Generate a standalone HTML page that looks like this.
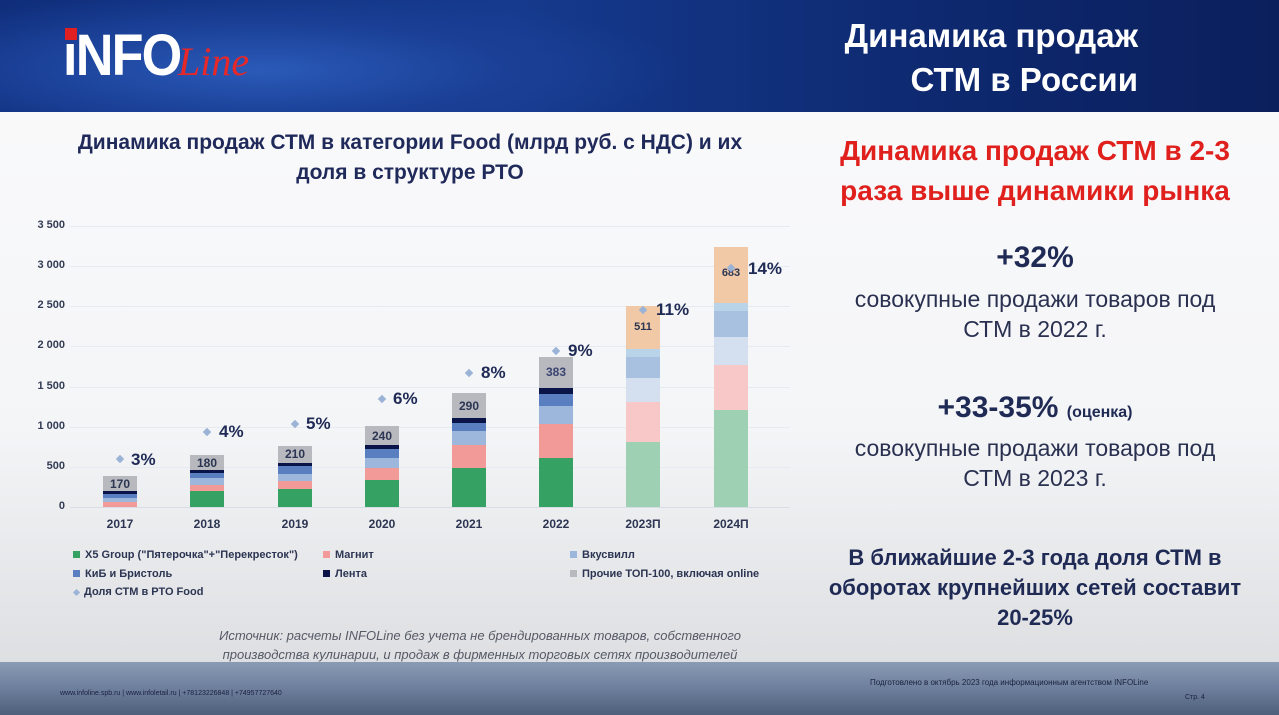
<!DOCTYPE html>
<html><head><meta charset="utf-8"><style>
*{margin:0;padding:0;box-sizing:border-box}
body{width:1279px;height:715px;overflow:hidden;position:relative;font-family:"Liberation Sans",sans-serif;background:linear-gradient(#fbfbfc 0%,#f4f5f7 60%,#d9dadd 100%)}
.a{position:absolute;white-space:nowrap}
.hdr{position:absolute;left:0;top:0;width:1279px;height:112px;background:radial-gradient(ellipse 420px 80px at 260px 70px,#2a5ab8 0%,#1a3f95 60%,transparent 100%),linear-gradient(90deg,#0f2d7a,#163a8e 40%,#0e2a72 70%,#0b1f5c)}
.ftr{position:absolute;left:0;top:662px;width:1279px;height:53px;background:linear-gradient(#8a9bb5,#6d7f9c 50%,#4e5f7c)}
.yl{position:absolute;left:20px;width:45px;text-align:right;font-size:11px;font-weight:bold;color:#333c55}
.gl{position:absolute;left:70px;width:720px;height:1px;background:#e6ebf1}
.xl{position:absolute;width:60px;text-align:center;font-size:12px;font-weight:bold;color:#2c3552;top:517px}
.vl{position:absolute;width:34px;text-align:center;font-size:12px;font-weight:bold;color:#2c3552}
.pc{position:absolute;font-size:17px;font-weight:bold;color:#1f2a55}
.dot{position:absolute;width:6px;height:6px;background:#9bb3d6;transform:rotate(45deg)}
.lg{position:absolute;font-size:11px;font-weight:bold;color:#2c3552}
.lg i{display:inline-block;width:7px;height:7px;margin-right:5px;vertical-align:0}
.r{position:absolute;left:820px;width:430px;text-align:center;color:#2a3050}
</style></head><body>
<div class="hdr"></div>
<div class="a" style="left:63px;top:22px;font-size:58px;font-weight:bold;color:#fff;letter-spacing:-2px;transform:scaleX(0.9);transform-origin:left">iNFO</div>
<div class="a" style="left:65px;top:28px;width:12px;height:12px;background:#e02020"></div>
<div class="a" style="left:178px;top:38px;font-size:40px;font-style:italic;font-family:'Liberation Serif',serif;color:#e82828">Line</div>
<div class="a" style="left:820px;top:14px;width:318px;text-align:right;font-size:33px;font-weight:bold;color:#fff;line-height:44px">Динамика продаж<br>СТМ в России</div>

<div class="a" style="left:30px;top:128px;width:760px;text-align:center;font-size:21px;font-weight:bold;color:#1f2a5a;line-height:30px">Динамика продаж СТМ в категории Food (млрд руб. с НДС) и их<br>доля в структуре РТО</div>

<div class="gl" style="top:226px"></div><div class="gl" style="top:266px"></div><div class="gl" style="top:306px"></div><div class="gl" style="top:346px"></div><div class="gl" style="top:387px"></div><div class="gl" style="top:427px"></div><div class="gl" style="top:467px"></div><div class="gl" style="top:507px;background:#d8dde5"></div>
<div class="yl" style="top:219px">3 500</div><div class="yl" style="top:259px">3 000</div><div class="yl" style="top:299px">2 500</div><div class="yl" style="top:339px">2 000</div><div class="yl" style="top:380px">1 500</div><div class="yl" style="top:420px">1 000</div><div class="yl" style="top:460px">500</div><div class="yl" style="top:500px">0</div>

<svg class="a" style="left:0;top:0" width="800" height="520">
<rect x="103" y="476" width="34" height="15" fill="#b7b9bf"/><rect x="103" y="491" width="34" height="3" fill="#0b1448"/><rect x="103" y="494" width="34" height="4" fill="#5a7fc0"/><rect x="103" y="498" width="34" height="4" fill="#9db6dc"/><rect x="103" y="502" width="34" height="5" fill="#f29a98"/>
<rect x="190" y="455" width="34" height="15" fill="#b7b9bf"/><rect x="190" y="470" width="34" height="3" fill="#0b1448"/><rect x="190" y="473" width="34" height="5" fill="#5a7fc0"/><rect x="190" y="478" width="34" height="7" fill="#9db6dc"/><rect x="190" y="485" width="34" height="6" fill="#f29a98"/><rect x="190" y="491" width="34" height="16" fill="#35a162"/>
<rect x="278" y="446" width="34" height="17" fill="#b7b9bf"/><rect x="278" y="463" width="34" height="3" fill="#0b1448"/><rect x="278" y="466" width="34" height="8" fill="#5a7fc0"/><rect x="278" y="474" width="34" height="7" fill="#9db6dc"/><rect x="278" y="481" width="34" height="8" fill="#f29a98"/><rect x="278" y="489" width="34" height="18" fill="#35a162"/>
<rect x="365" y="426" width="34" height="19" fill="#b7b9bf"/><rect x="365" y="445" width="34" height="4" fill="#0b1448"/><rect x="365" y="449" width="34" height="9" fill="#5a7fc0"/><rect x="365" y="458" width="34" height="10" fill="#9db6dc"/><rect x="365" y="468" width="34" height="12" fill="#f29a98"/><rect x="365" y="480" width="34" height="27" fill="#35a162"/>
<rect x="452" y="393" width="34" height="25" fill="#b7b9bf"/><rect x="452" y="418" width="34" height="5" fill="#0b1448"/><rect x="452" y="423" width="34" height="8" fill="#5a7fc0"/><rect x="452" y="431" width="34" height="14" fill="#9db6dc"/><rect x="452" y="445" width="34" height="23" fill="#f29a98"/><rect x="452" y="468" width="34" height="39" fill="#35a162"/>
<rect x="539" y="357" width="34" height="31" fill="#b7b9bf"/><rect x="539" y="388" width="34" height="6" fill="#0b1448"/><rect x="539" y="394" width="34" height="12" fill="#5a7fc0"/><rect x="539" y="406" width="34" height="18" fill="#9db6dc"/><rect x="539" y="424" width="34" height="34" fill="#f29a98"/><rect x="539" y="458" width="34" height="49" fill="#35a162"/>
<rect x="626" y="306" width="34" height="43" fill="#f2c9a6"/><rect x="626" y="349" width="34" height="8" fill="#b9d3e8"/><rect x="626" y="357" width="34" height="21" fill="#a9c1e0"/><rect x="626" y="378" width="34" height="24" fill="#d4dff0"/><rect x="626" y="402" width="34" height="40" fill="#f8c8c8"/><rect x="626" y="442" width="34" height="65" fill="#9ed0b3"/>
<rect x="714" y="247" width="34" height="56" fill="#f2c9a6"/><rect x="714" y="303" width="34" height="8" fill="#b9d3e8"/><rect x="714" y="311" width="34" height="26" fill="#a9c1e0"/><rect x="714" y="337" width="34" height="28" fill="#d4dff0"/><rect x="714" y="365" width="34" height="45" fill="#f8c8c8"/><rect x="714" y="410" width="34" height="97" fill="#9ed0b3"/>
</svg>

<div class="vl" style="left:103px;top:477px">170</div><div class="vl" style="left:190px;top:456px">180</div><div class="vl" style="left:278px;top:447px">210</div><div class="vl" style="left:365px;top:429px">240</div><div class="vl" style="left:452px;top:399px">290</div><div class="vl" style="left:539px;top:365px;color:#3a4470">383</div><div class="vl" style="left:626px;top:321px;font-size:11px">511</div><div class="vl" style="left:714px;top:267px;font-size:11px">683</div>

<div class="dot" style="left:117px;top:456px"></div><div class="pc" style="left:131px;top:450px">3%</div>
<div class="dot" style="left:204px;top:429px"></div><div class="pc" style="left:219px;top:422px">4%</div>
<div class="dot" style="left:292px;top:421px"></div><div class="pc" style="left:306px;top:414px">5%</div>
<div class="dot" style="left:379px;top:396px"></div><div class="pc" style="left:393px;top:389px">6%</div>
<div class="dot" style="left:466px;top:370px"></div><div class="pc" style="left:481px;top:363px">8%</div>
<div class="dot" style="left:553px;top:348px"></div><div class="pc" style="left:568px;top:341px">9%</div>
<div class="dot" style="left:640px;top:307px"></div><div class="pc" style="left:656px;top:300px">11%</div>
<div class="dot" style="left:728px;top:265px"></div><div class="pc" style="left:748px;top:259px">14%</div>

<div class="xl" style="left:90px">2017</div><div class="xl" style="left:177px">2018</div><div class="xl" style="left:265px">2019</div><div class="xl" style="left:352px">2020</div><div class="xl" style="left:439px">2021</div><div class="xl" style="left:526px">2022</div><div class="xl" style="left:613px">2023П</div><div class="xl" style="left:701px">2024П</div>

<div class="lg" style="left:73px;top:549px"><i style="background:#35a162"></i>X5 Group ("Пятерочка"+"Перекресток")</div>
<div class="lg" style="left:323px;top:549px"><i style="background:#f29a98"></i>Магнит</div>
<div class="lg" style="left:570px;top:549px"><i style="background:#9db6dc"></i>Вкусвилл</div>
<div class="lg" style="left:73px;top:568px"><i style="background:#5a7fc0"></i>КиБ и Бристоль</div>
<div class="lg" style="left:323px;top:568px"><i style="background:#0b1448"></i>Лента</div>
<div class="lg" style="left:570px;top:568px"><i style="background:#b7b9bf"></i>Прочие ТОП-100, включая online</div>
<div class="lg" style="left:73px;top:586px"><i style="background:#9bb3d6;width:5px;height:5px;transform:rotate(45deg);margin-left:1px"></i>Доля СТМ в РТО Food</div>

<div class="a" style="left:190px;top:626px;width:580px;text-align:center;font-size:13px;font-style:italic;color:#555a66;line-height:19px;white-space:normal">Источник: расчеты INFOLine без учета не брендированных товаров, собственного производства кулинарии, и продаж в фирменных торговых сетях производителей</div>

<div class="r" style="left:815px;width:440px;top:131px;color:#e0201c;font-size:28px;font-weight:bold;line-height:40px">Динамика продаж СТМ в 2-3<br>раза выше динамики рынка</div>
<div class="r" style="top:241px;font-size:30px;font-weight:bold;color:#1f2a55">+32%</div>
<div class="r" style="left:815px;width:440px;top:284px;font-size:23px;line-height:30px">совокупные продажи товаров под<br>СТМ в 2022 г.</div>
<div class="r" style="top:391px;font-size:30px;font-weight:bold;color:#1f2a55">+33-35% <span style="font-size:16px">(оценка)</span></div>
<div class="r" style="left:815px;width:440px;top:433px;font-size:23px;line-height:30px">совокупные продажи товаров под<br>СТМ в 2023 г.</div>
<div class="r" style="left:815px;width:440px;top:543px;font-size:22px;font-weight:bold;color:#1f2a55;line-height:30px">В ближайшие 2-3 года доля СТМ в<br>оборотах крупнейших сетей составит<br>20-25%</div>

<div class="ftr"></div>
<div class="a" style="left:60px;top:690px;font-size:7px;color:#1a2040">www.infoline.spb.ru | www.infoletail.ru | +78123226848 | +74957727640</div>
<div class="a" style="left:870px;top:678px;font-size:8px;color:#1a2040">Подготовлено в октябрь 2023 года информационным агентством INFOLine</div>
<div class="a" style="left:1185px;top:694px;font-size:7px;color:#1a2040">Стр. 4</div>
</body></html>
